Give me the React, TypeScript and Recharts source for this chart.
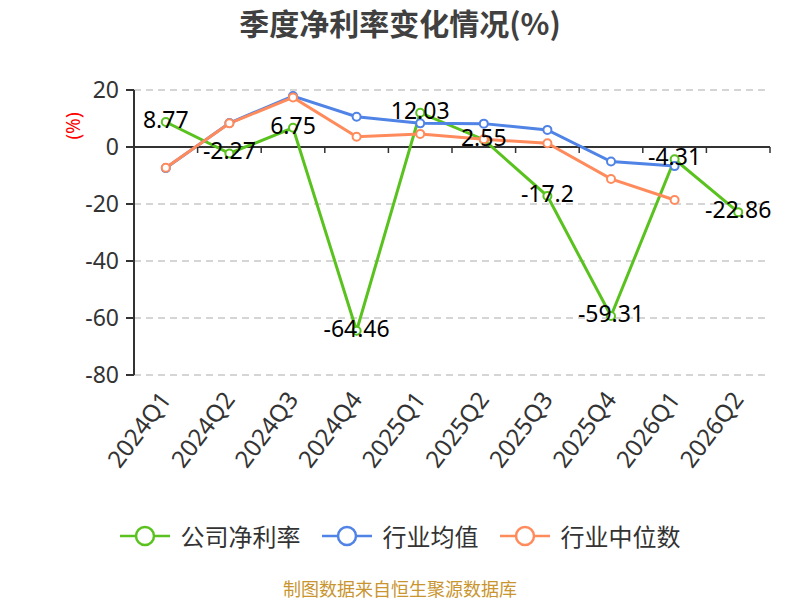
import { LineChart, Line, XAxis, YAxis, CartesianGrid, ReferenceLine, LabelList } from 'recharts';

// 季度净利率变化情况 (%)
const quarters = ['2024Q1', '2024Q2', '2024Q3', '2024Q4', '2025Q1', '2025Q2', '2025Q3', '2025Q4', '2026Q1', '2026Q2'];
const companyMargin = [8.77, -2.27, 6.75, -64.46, 12.03, 2.55, -17.2, -59.31, -4.31, -22.86];
const industryMean = [-7.4, 8.4, 17.9, 10.6, 8.3, 8.2, 6.0, -5.1, -6.7, null];
const industryMedian = [-7.3, 8.3, 17.4, 3.6, 4.6, 2.7, 1.3, -11.2, -18.6, null];
const yTicks = [-80, -60, -40, -20, 0, 20];

const seriesNames = ['公司净利率', '行业均值', '行业中位数'];
const colors = ['#5ac21e', '#4f83e6', '#ff8b5c'];

const data = quarters.map((q, i) => ({
  q,
  company: companyMargin[i],
  mean: industryMean[i],
  median: industryMedian[i],
}));

const W = 800;
const H = 600;
const PLOT_TOP = 90;
const PLOT_BOTTOM = 375;
const PLOT_LEFT = 134;
const PLOT_RIGHT = 770;
const Y_MIN = -80;
const Y_MAX = 20;
const zeroY = PLOT_TOP + ((PLOT_BOTTOM - PLOT_TOP) * Y_MAX) / (Y_MAX - Y_MIN);
const band = (PLOT_RIGHT - PLOT_LEFT) / quarters.length;
const FONT = '"Noto Sans", "Noto Sans CJK SC", sans-serif';

const QuarterTick = (props: any) => {
  const { x, payload, index } = props;
  const ax = x - 1;
  const ay = PLOT_BOTTOM + 19;
  return (
    <g>
      <line x1={x - band / 2} y1={zeroY} x2={x - band / 2} y2={zeroY + 6} stroke="#333" strokeWidth={1.5} />
      {index === quarters.length - 1 && (
        <line x1={x + band / 2} y1={zeroY} x2={x + band / 2} y2={zeroY + 6} stroke="#333" strokeWidth={1.5} />
      )}
      <text
        x={ax}
        y={ay}
        textAnchor="end"
        dominantBaseline="central"
        transform={`rotate(-53, ${ax}, ${ay})`}
        fontSize={24}
        fontFamily={FONT}
        fill="#333"
      >
        {payload.value}
      </text>
    </g>
  );
};

const ValueLabel = (props: any) => {
  const { x, y, value } = props;
  return (
    <text x={x} y={y - 3} textAnchor="middle" dominantBaseline="central" fontSize={23} fontFamily={FONT} fill="#000">
      {value}
    </text>
  );
};

const UnitLabel = (props: any) => {
  const vx = props.viewBox.x + 73;
  const vy = props.viewBox.y + 36;
  return (
    <text x={vx} y={vy} transform={`rotate(-90, ${vx}, ${vy})`} textAnchor="middle" dominantBaseline="central" fill="#ff0000" fontSize={19} fontFamily={FONT}>
      (%)
    </text>
  );
};

const LegendIcon = ({ color }: { color: string }) => (
  <svg width={50} height={24} style={{ marginRight: 11 }}>
    <line x1={0} y1={12} x2={50} y2={12} stroke={color} strokeWidth={2.5} />
    <circle cx={25} cy={12} r={9} fill="#fff" stroke={color} strokeWidth={2.5} />
  </svg>
);

export default function App() {
  return (
    <div style={{ position: 'absolute', left: 0, top: 0, width: W, height: H, background: '#fff', fontFamily: FONT }}>
      <div
        style={{
          position: 'absolute',
          top: 4,
          width: W,
          textAlign: 'center',
          fontSize: 30,
          fontWeight: 'bold',
          color: '#404040',
          lineHeight: '36px',
          fontFamily: '"Noto Sans CJK SC", sans-serif',
        }}
      >
        季度净利率变化情况(%)
      </div>
      <LineChart width={W} height={H} data={data} margin={{ top: PLOT_TOP, right: W - PLOT_RIGHT, bottom: 0, left: 0 }}>
        <CartesianGrid vertical={false} stroke="#c8c8c8" strokeDasharray="7 5" strokeWidth={1.5} />
        <XAxis
          dataKey="q"
          height={H - PLOT_BOTTOM}
          axisLine={false}
          tickLine={false}
          interval={0}
          padding={{ left: band / 2, right: band / 2 }}
          tick={<QuarterTick />}
        />
        <YAxis
          width={PLOT_LEFT}
          domain={[Y_MIN, Y_MAX]}
          ticks={yTicks}
          interval={0}
          axisLine={{ stroke: '#333', strokeWidth: 2 }}
          tickLine={{ stroke: '#333', strokeWidth: 2 }}
          tickSize={8}
          tickMargin={7}
          tick={{ fill: '#333', fontSize: 23, fontFamily: FONT }}
          label={<UnitLabel />}
        />
        <ReferenceLine y={0} stroke="#333" strokeWidth={2} />
        <Line
          dataKey="company"
          name={seriesNames[0]}
          stroke={colors[0]}
          strokeWidth={3}
          dot={{ r: 4, fill: '#fff', stroke: colors[0], strokeWidth: 2 }}
          isAnimationActive={false}
        >
          <LabelList dataKey="company" content={<ValueLabel />} />
        </Line>
        <Line
          dataKey="mean"
          name={seriesNames[1]}
          stroke={colors[1]}
          strokeWidth={3}
          dot={{ r: 4, fill: '#fff', stroke: colors[1], strokeWidth: 2 }}
          isAnimationActive={false}
        />
        <Line
          dataKey="median"
          name={seriesNames[2]}
          stroke={colors[2]}
          strokeWidth={3}
          dot={{ r: 4, fill: '#fff', stroke: colors[2], strokeWidth: 2 }}
          isAnimationActive={false}
        />
      </LineChart>
      <div
        style={{
          position: 'absolute',
          top: 520,
          width: W,
          display: 'flex',
          justifyContent: 'center',
          alignItems: 'center',
          fontSize: 24,
          color: '#333',
          lineHeight: '32px',
          fontFamily: '"Noto Sans CJK SC", sans-serif',
        }}
      >
        {seriesNames.map((n, i) => (
          <div key={n} style={{ display: 'flex', alignItems: 'center', marginRight: i < seriesNames.length - 1 ? 21 : 0 }}>
            <LegendIcon color={colors[i]} />
            <span>{n}</span>
          </div>
        ))}
      </div>
      <div
        style={{
          position: 'absolute',
          top: 578,
          width: W,
          textAlign: 'center',
          fontSize: 18,
          color: '#c9952f',
          lineHeight: '20px',
          fontFamily: '"Noto Sans CJK SC", sans-serif',
        }}
      >
        制图数据来自恒生聚源数据库
      </div>
    </div>
  );
}
